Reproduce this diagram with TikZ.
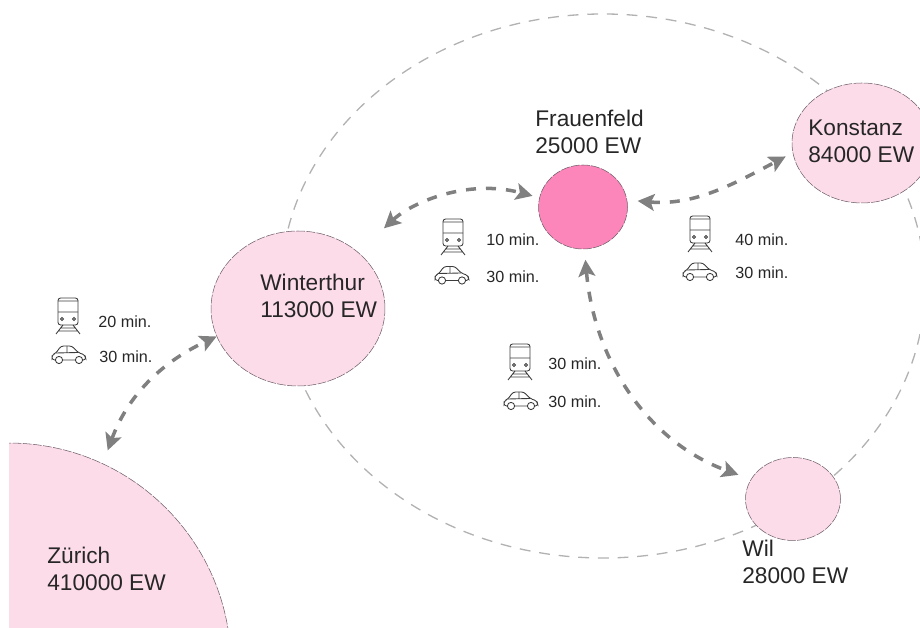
\documentclass[tikz,border=0pt]{standalone}
\usepackage{fontspec}
\setmainfont{Liberation Sans}
\usetikzlibrary{arrows.meta,shapes.geometric}
\definecolor{cityfill}{RGB}{253,220,234}
\definecolor{hubfill}{RGB}{252,133,186}
\definecolor{cityline}{RGB}{110,95,105}
\definecolor{ringline}{RGB}{178,178,178}
\definecolor{linkgray}{RGB}{128,128,128}
\definecolor{icongray}{RGB}{60,60,60}
\tikzset{
  city/.style={ellipse, draw=cityline, fill=cityfill, line width=0.3pt, dash pattern=on 5pt off 0.8pt, inner sep=0pt},
  citylabel/.style={anchor=west, align=left, inner sep=0pt, font=\fontsize{12.9}{15.3}\selectfont, text=black!85},
  timelabel/.style={anchor=west, inner sep=0pt, font=\fontsize{9.2}{11}\selectfont, text=black!85},
  link/.style={draw=linkgray, line width=2pt, dash pattern=on 5.7pt off 5.7pt, {Stealth[length=9.5pt,width=9.5pt,inset=2pt]}-{Stealth[length=9.5pt,width=9.5pt,inset=2pt]}},
  trainicon/.pic={
    \draw[icongray, line width=0.5pt, rounded corners=1.5pt] (-10,-9) rectangle (10,18);
    \draw[icongray, line width=0.5pt] (-10,4) -- (10,4) (-10,15) -- (10,15) (-5,-9) -- (-12,-18) (5,-9) -- (12,-18) (-7,-12) -- (7,-12) (-9.5,-15) -- (9.5,-15);
    \draw[icongray, line width=0.5pt] (-6,-3) circle (1.4) (6,-3) circle (1.4);
  },
  caricon/.pic={
    \draw[icongray, line width=0.5pt, rounded corners=1.5pt] (-14,-6) -- (-17,-6) -- (-17,-1) -- (-13,1) -- (-8,8) -- (3,8) -- (9,1.5) -- (16,-1) -- (17,-6) -- (14,-6);
    \draw[icongray, line width=0.5pt] (-6,-6) -- (6,-6) (-13,1) -- (9,1.5) (-2,1.5) -- (-2,8);
    \draw[icongray, line width=0.5pt] (-10,-6) circle (3.6) (10,-6) circle (3.6);
  }
}
\begin{document}
\begin{tikzpicture}[x=0.02cm,y=0.02cm]
    \useasboundingbox (0,0) rectangle (920,628);
    \clip (9,0) rectangle (920,628);
    \draw[ringline, line width=0.75pt, dash pattern=on 6.2pt off 5pt] (603,342) ellipse (322 and 272);
    \node[city, minimum width=8.88cm, minimum height=8.88cm] (zurich) at (9,-37) {};
    \node[city, minimum width=3.48cm, minimum height=3.1cm] (winterthur) at (298,319.5) {};
    \node[city, fill=hubfill, minimum width=1.78cm, minimum height=1.68cm] (frauenfeld) at (583,421) {};
    \node[city, minimum width=2.8cm, minimum height=2.4cm] (konstanz) at (862,485) {};
    \node[city, minimum width=1.9cm, minimum height=1.66cm] (wil) at (793,129) {};
    \node[citylabel] (zurichlabel) at (47,59) {Zürich\\410000 EW};
    \node[citylabel] (winterthurlabel) at (260,332) {Winterthur\\113000 EW};
    \node[citylabel] (frauenfeldlabel) at (535,496) {Frauenfeld\\25000 EW};
    \node[citylabel] (konstanzlabel) at (808,487) {Konstanz\\84000 EW};
    \node[citylabel] (willabel) at (742,66) {Wil\\28000 EW};
    \draw[link, shorten <=8pt] (zurich.65) to[out=70, in=205] (winterthur.199);
    \draw[link, shorten <=20pt, shorten >=4pt] (winterthur.43) to[out=43, in=165] (frauenfeld.168);
    \draw[link, shorten <=6pt, shorten >=4.5pt] (frauenfeld.9) to[out=-5, in=208] (konstanz.188);
    \draw[link, shorten <=6pt, shorten >=7.5pt] (frauenfeld.272) to[out=-85, in=160] (wil.155);
    \pic at (68,312) {trainicon};
    \pic at (69,274) {caricon};
    \node[timelabel] (zwtrain) at (98,306) {20 min.};
    \node[timelabel] (zwcar) at (99,271) {30 min.};
    \pic at (453,391) {trainicon};
    \pic at (452,353.5) {caricon};
    \node[timelabel] (wftrain) at (486,388) {10 min.};
    \node[timelabel] (wfcar) at (486,351) {30 min.};
    \pic at (700,394) {trainicon};
    \pic at (700,357) {caricon};
    \node[timelabel] (fktrain) at (735,388) {40 min.};
    \node[timelabel] (fkcar) at (735,355) {30 min.};
    \pic at (520,266) {trainicon};
    \pic at (521,228) {caricon};
    \node[timelabel] (fwtrain) at (548,264) {30 min.};
    \node[timelabel] (fwcar) at (548,226) {30 min.};
  \end{tikzpicture}
\end{document}
